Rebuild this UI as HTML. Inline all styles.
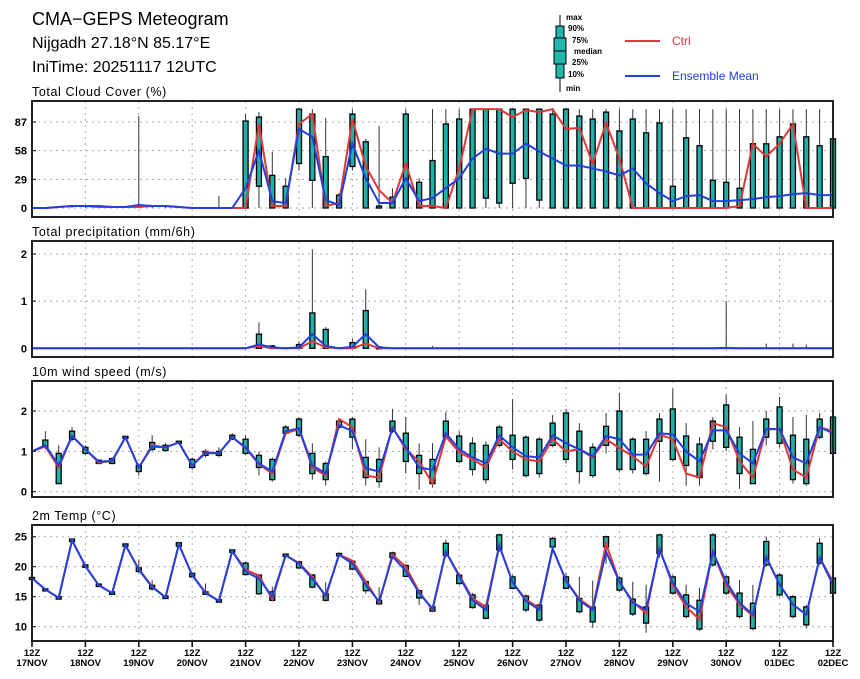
<!DOCTYPE html>
<html><head><meta charset="utf-8"><style>
body{margin:0;background:#fff;}
svg{display:block;font-family:"Liberation Sans",sans-serif;}
</style></head><body>
<svg id="c" width="860" height="679" xmlns="http://www.w3.org/2000/svg">
<text x="32" y="25" font-size="18">CMA−GEPS Meteogram</text>
<text x="32" y="48" font-size="16">Nijgadh 27.18°N 85.17°E</text>
<text x="32" y="72" font-size="16">IniTime: 20251117 12UTC</text>
<g>
<line x1="560" y1="15" x2="560" y2="92" stroke="#000"/>
<rect x="556" y="26" width="8" height="52" fill="#20b5ad" stroke="#000"/>
<rect x="554" y="38" width="12" height="26" fill="#20b5ad" stroke="#000"/>
<line x1="554" y1="51" x2="566" y2="51" stroke="#000"/>
<g font-size="8" font-weight="bold">
<text x="566" y="20">max</text><text x="568" y="31">90%</text><text x="572" y="43">75%</text><text x="574" y="54">median</text><text x="572" y="65">25%</text><text x="568" y="77">10%</text><text x="566" y="91">min</text></g>
<line x1="625" y1="41" x2="660" y2="41" stroke="#e03838" stroke-width="2"/>
<text x="672" y="45" font-size="12" fill="#e03838">Ctrl</text>
<line x1="625" y1="76" x2="660" y2="76" stroke="#2040e0" stroke-width="2"/>
<text x="672" y="80" font-size="12" fill="#2040e0">Ensemble Mean</text>
</g>
</svg>
<script>
const dayLabels=["17NOV","18NOV","19NOV","20NOV","21NOV","22NOV","23NOV","24NOV","25NOV","26NOV","27NOV","28NOV","29NOV","30NOV","01DEC","02DEC"];
const cloudTicks=[0,29,58,87];
const precipTicks=[0,1,2];
const windTicks=[0,1,2];
const tempTicks=[10,15,20,25];
const cloudMean=[0,0,1,2,2,2,1,1,3,2,2,1,0,0,0,0,20,58,7,5,80,72,8,3,65,30,5,5,30,7,10,20,30,50,60,55,55,65,57,50,43,43,40,37,33,40,25,15,7,12,13,7,7,8,9,11,12,14,15,13,13];
const cloudCtrl=[0,0,1,2,2,1,1,1,1,2,2,1,0,0,0,0,0,85,2,2,85,95,2,5,90,42,18,5,45,2,2,0,40,100,100,100,92,99,97,100,80,81,45,86,50,0,0,0,0,0,0,0,0,2,65,52,65,85,0,0,0];
const cloudQ25=[0,0,0,0,0,0,0,0,0,0,0,0,0,0,0,0,0,22,0,0,45,28,0,0,42,0,0,0,0,0,0,0,0,0,10,5,25,30,8,0,0,0,0,0,0,0,0,0,0,0,0,0,0,0,0,0,0,0,0,0,0];
const cloudQ75=[0,0,0,0,0,0,0,0,0,0,0,0,0,0,0,0,88,92,33,22,100,95,52,13,95,67,2,11,95,26,48,85,90,100,100,100,100,100,100,95,100,93,90,97,78,90,76,86,22,71,63,28,26,20,65,65,72,85,72,63,70];
const cloudMin=[0,0,0,0,0,0,0,0,0,0,0,0,0,0,0,0,0,0,0,0,38,0,0,0,38,0,0,0,0,0,0,0,0,0,0,0,0,0,0,0,0,0,0,0,0,0,0,0,0,0,0,0,0,0,0,0,0,0,0,0,0];
const cloudMax=[0,0,1,2,2,2,1,1,93,2,2,1,0,0,12,0,95,97,57,30,100,100,91,15,100,70,83,20,100,30,100,100,100,100,100,100,100,100,100,100,100,100,100,100,100,100,100,100,100,100,100,100,100,100,100,100,100,100,100,100,100];
const precMean=[0,0,0,0,0,0,0,0,0,0,0,0,0,0,0,0,0,0.08,0.02,0,0.02,0.3,0.05,0,0.03,0.3,0.02,0,0,0,0,0,0,0,0,0,0,0,0,0,0,0,0,0,0,0,0,0,0,0,0,0,0.01,0,0,0,0,0,0,0,0];
const precCtrl=[0,0,0,0,0,0,0,0,0,0,0,0,0,0,0,0,0,0.05,0,0,0,0.15,0.02,0,0,0.1,0,0,0,0,0,0,0,0,0,0,0,0,0,0,0,0,0,0,0,0,0,0,0,0,0,0,0,0,0,0,0,0,0,0,0];
const precQ25=[0,0,0,0,0,0,0,0,0,0,0,0,0,0,0,0,0,0,0,0,0,0,0,0,0,0,0,0,0,0,0,0,0,0,0,0,0,0,0,0,0,0,0,0,0,0,0,0,0,0,0,0,0,0,0,0,0,0,0,0,0];
const precQ75=[0,0,0,0,0,0,0,0,0,0,0,0,0,0,0,0,0,0.3,0.05,0,0.08,0.75,0.4,0,0.12,0.8,0.03,0,0,0,0,0,0,0,0,0,0,0,0,0,0,0,0,0,0,0,0,0,0,0,0,0,0,0,0,0,0,0,0,0,0];
const precMin=[0,0,0,0,0,0,0,0,0,0,0,0,0,0,0,0,0,0,0,0,0,0,0,0,0,0,0,0,0,0,0,0,0,0,0,0,0,0,0,0,0,0,0,0,0,0,0,0,0,0,0,0,0,0,0,0,0,0,0,0,0];
const precMax=[0,0,0,0,0,0,0,0,0,0,0,0,0,0,0,0,0,0.55,0.07,0,0.15,2.1,0.45,0,0.2,1.25,0.05,0,0,0,0.05,0,0,0,0,0,0,0,0,0,0,0,0,0,0,0,0,0,0,0,0,0,1.0,0,0,0.1,0,0.1,0.08,0,0];
const windMean=[1.0,1.15,0.65,1.38,1.05,0.75,0.76,1.35,0.6,1.12,1.1,1.22,0.65,0.96,0.95,1.35,1.1,0.7,0.5,1.5,1.57,0.65,0.45,1.65,1.5,0.58,0.5,1.58,1.1,0.6,0.54,1.45,1.05,0.85,0.7,1.4,1.1,0.88,0.85,1.4,1.2,1.05,0.88,1.38,1.3,0.92,0.92,1.45,1.42,1.0,0.75,1.52,1.52,0.95,0.7,1.55,1.55,0.85,0.7,1.6,1.45];
const windCtrl=[1.0,1.12,0.6,1.38,1.05,0.72,0.76,1.35,0.6,1.15,1.1,1.22,0.65,0.98,0.95,1.35,1.08,0.68,0.45,1.45,1.55,0.6,0.4,1.8,1.6,0.4,0.35,1.6,1.05,0.75,0.2,1.37,0.98,0.8,0.6,1.3,1.0,0.8,0.75,1.3,1.0,1.05,0.85,1.3,1.08,0.88,0.62,1.42,1.3,0.45,0.35,1.7,1.6,0.75,0.35,1.55,1.55,0.55,0.35,1.6,1.5];
const windQ25=[1.0,1.1,0.2,1.3,0.95,0.7,0.7,1.33,0.5,1.05,1.02,1.2,0.6,0.9,0.9,1.3,0.95,0.6,0.3,1.45,1.4,0.45,0.3,1.6,1.35,0.35,0.25,1.5,0.75,0.45,0.2,1.35,0.75,0.55,0.3,1.15,0.8,0.4,0.45,1.15,0.8,0.5,0.4,1.15,0.55,0.55,0.45,1.25,0.8,0.65,0.35,1.25,1.1,0.45,0.2,1.35,1.2,0.3,0.2,1.35,0.95];
const windQ75=[1.0,1.28,0.95,1.5,1.1,0.78,0.82,1.37,0.65,1.22,1.15,1.25,0.8,1.0,1.0,1.4,1.3,0.9,0.8,1.6,1.8,0.95,0.7,1.75,1.8,0.85,0.8,1.75,1.45,0.9,0.8,1.75,1.38,1.2,1.15,1.6,1.4,1.35,1.3,1.7,1.95,1.5,1.1,1.62,2.0,1.3,1.3,1.8,2.05,1.38,1.18,1.75,2.15,1.35,1.05,1.8,2.1,1.4,1.3,1.8,1.85];
const windMin=[1.0,1.05,0.2,1.25,0.9,0.68,0.68,1.32,0.4,1.0,1.0,1.18,0.55,0.85,0.85,1.28,0.9,0.4,0.25,1.4,1.35,0.3,0.15,1.55,1.05,0.15,0.1,1.45,0.45,0.05,0.1,1.3,0.7,0.4,0.2,1.1,0.55,0.35,0.35,1.1,0.7,0.2,0.35,0.95,0.5,0.45,0.4,0.25,0.75,0.15,0.15,1.05,1.0,0.07,0.2,1.15,1.1,0.2,0.15,1.3,0.9];
const windMax=[1.0,1.5,1.15,1.6,1.15,0.8,0.85,1.38,0.7,1.4,1.2,1.27,0.85,1.05,1.1,1.45,1.4,1.0,0.85,1.65,1.85,1.2,0.75,1.8,1.85,1.3,1.1,2.05,1.85,1.2,1.2,1.98,1.5,1.35,1.25,1.65,2.3,1.4,1.35,1.9,2.05,1.7,1.2,1.95,2.45,1.35,1.5,1.95,2.55,1.7,1.35,1.85,2.4,1.6,1.75,2.0,2.35,1.85,1.9,1.95,1.9];
const tempMean=[18.1,16.2,14.8,24.4,20.1,16.9,15.6,23.6,19.5,16.6,14.9,23.7,18.6,15.6,14.3,22.6,19.2,18.0,15.0,21.9,20.5,18.0,15.2,22.0,20.5,17.0,14.2,21.7,19.3,15.6,13.0,22.5,18.4,14.4,12.8,23.5,17.4,14.3,12.8,23.0,17.7,14.4,12.8,22.5,17.5,14.0,12.8,22.9,17.3,13.9,12.5,22.5,17.5,14.0,12.0,21.6,17.0,13.7,12.0,21.5,17.0];
const tempCtrl=[18.1,16.2,14.8,24.4,20.1,16.9,15.6,23.6,19.6,16.7,14.9,23.7,18.6,15.7,14.3,22.6,19.5,18.5,14.6,21.9,20.6,18.3,15.0,22.0,21.0,17.5,14.0,22.0,20.0,15.8,12.8,22.5,18.6,14.7,13.3,23.5,17.4,14.5,13.1,23.0,17.7,14.6,13.0,23.8,17.5,14.2,12.2,23.0,16.9,13.3,11.2,22.5,16.9,13.7,11.8,21.6,17.0,13.7,12.0,21.5,17.5];
const tempQ25=[18.0,16.1,14.6,24.2,19.9,16.7,15.4,23.4,19.2,16.3,14.7,23.4,18.3,15.4,14.1,22.4,18.7,15.5,14.4,21.7,19.8,16.6,14.4,21.8,19.6,16.0,13.8,21.5,18.4,14.8,12.6,21.9,17.2,13.2,11.4,22.8,16.4,12.8,11.1,23.3,16.4,12.5,10.8,23.3,16.1,12.1,10.6,22.2,15.6,11.7,9.6,20.3,15.6,11.7,9.7,20.3,15.3,11.7,10.3,20.6,15.6];
const tempQ75=[18.2,16.3,15.0,24.6,20.3,17.1,15.8,23.8,19.8,16.9,15.1,24.0,18.9,15.8,14.5,22.8,20.6,18.6,15.8,22.1,20.8,18.6,15.5,22.2,20.9,17.5,14.4,22.3,20.2,16.0,13.3,23.9,18.6,15.3,13.6,25.3,18.3,15.1,13.6,24.7,18.3,14.7,13.3,25.0,18.1,14.6,13.3,25.3,18.3,15.3,14.4,25.3,18.3,15.6,13.9,24.2,18.6,15.0,13.3,23.9,18.1];
const tempMin=[18.0,16.0,14.5,24.1,19.8,16.6,15.3,23.3,19.0,16.0,14.6,23.2,18.2,15.3,14.0,22.3,18.5,15.3,14.2,21.6,19.6,16.4,14.2,21.6,19.4,15.5,13.6,21.3,18.2,13.6,12.4,21.5,17.0,13.0,11.2,22.5,16.2,12.4,10.8,23.0,16.2,12.2,9.8,20.5,15.8,11.8,9.0,21.5,15.3,11.4,9.3,20.0,15.3,11.4,9.4,20.0,15.0,11.4,9.7,20.3,15.3];
const tempMax=[18.2,16.4,15.1,24.7,20.4,17.2,15.9,23.9,21.2,17.8,15.2,24.1,19.0,17.2,14.6,22.9,20.8,18.8,16.7,22.2,21.0,18.8,17.4,22.4,21.1,17.8,16.6,22.5,20.4,16.2,13.5,24.5,19.0,15.6,13.9,25.5,18.6,15.4,13.9,25.0,19.0,18.3,17.7,25.2,18.4,17.5,17.0,25.5,18.6,17.0,16.5,25.6,18.6,17.8,17.0,25.0,18.9,15.3,13.6,24.8,18.4];

const svg=document.getElementById('c');
const NS='http://www.w3.org/2000/svg';
const X0=32,X1=833,N=60;
function xs(i){return X0+(X1-X0)*i/N;}
function mk(t,a,parent){const e=document.createElementNS(NS,t);for(const k in a)e.setAttribute(k,a[k]);(parent||svg).appendChild(e);return e;}

const panels=[
 {name:'cloud',title:'Total Cloud Cover (%)',top:101,bot:217,v0:0,y0:208,v1:87,y1:122,ticks:cloudTicks,mean:cloudMean,ctrl:cloudCtrl,q25:cloudQ25,q75:cloudQ75,mn:cloudMin,mx:cloudMax},
 {name:'precip',title:'Total precipitation (mm/6h)',top:241,bot:357,v0:0,y0:348.3,v1:2,y1:254,ticks:precipTicks,mean:precMean,ctrl:precCtrl,q25:precQ25,q75:precQ75,mn:precMin,mx:precMax},
 {name:'wind',title:'10m wind speed (m/s)',top:381,bot:497,v0:0,y0:491.7,v1:2,y1:411,ticks:windTicks,mean:windMean,ctrl:windCtrl,q25:windQ25,q75:windQ75,mn:windMin,mx:windMax},
 {name:'temp',title:'2m Temp (°C)',top:525,bot:641,v0:10,y0:626.7,v1:25,y1:536.7,ticks:tempTicks,mean:tempMean,ctrl:tempCtrl,q25:tempQ25,q75:tempQ75,mn:tempMin,mx:tempMax}
];
panels.forEach(p=>{
 const ys=v=>p.y0+(v-p.v0)*(p.y1-p.y0)/(p.v1-p.v0);
 const g=mk('g',{});
 
 
 const t=mk('text',{x:32,y:p.top-5,'font-size':12.5,'letter-spacing':'0.6'},g);t.textContent=p.title;
 
 
 for(let d=1;d<15;d++){const l=mk('line',{x1:xs(d*4),x2:xs(d*4),y1:p.top,y2:p.bot,stroke:'#aaa','stroke-dasharray':'2,4'},g);
  
  }
 p.ticks.forEach(v=>{const y=ys(v);
  const l=mk('line',{x1:X0,x2:X1,y1:y,y2:y,stroke:'#aaa','stroke-dasharray':'2,4'},g);
  
  
  mk('line',{x1:X0,x2:X0+4,y1:y,y2:y,stroke:'#000'},g);
  const tt=mk('text',{x:27,y:y+4,'font-size':11,'font-weight':'bold','text-anchor':'end'},g);tt.textContent=v;
  
  });
 for(let i=0;i<=N;i++){
  const x=xs(i);
  if(p.mx[i]>p.mn[i]){const w=mk('line',{x1:x,x2:x,y1:ys(p.mx[i]),y2:ys(p.mn[i]),stroke:'#333','stroke-width':1},g);
   
   }
  if(p.q75[i]>p.q25[i]){const h=Math.max(2,ys(p.q25[i])-ys(p.q75[i]));
   const b=mk('rect',{x:x-2.5,y:ys(p.q75[i]),width:5,height:h,fill:'#1fb0a8',stroke:'#000','stroke-width':1.3},g);
   
   }
 }
 const lc=mk('polyline',{points:p.ctrl.map((v,i)=>xs(i)+','+ys(v)).join(' '),fill:'none',stroke:'#e03838','stroke-width':2},g);
 
 
 const lm=mk('polyline',{points:p.mean.map((v,i)=>xs(i)+','+ys(v)).join(' '),fill:'none',stroke:'#2040e0','stroke-width':2},g);
 
 
 const fr=mk('rect',{x:X0,y:p.top,width:X1-X0,height:p.bot-p.top,fill:'none',stroke:'#222','stroke-width':2},g);
 
 
});
dayLabels.forEach((d,k)=>{const x=xs(k*4);
 mk('line',{x1:x,x2:x,y1:641,y2:647,stroke:'#000','stroke-width':1.5});
 const a=mk('text',{x:x,y:656,'font-size':9.5,'font-weight':'bold','text-anchor':'middle'});a.textContent='12Z';
 
 
 const b=mk('text',{x:x,y:666,'font-size':9.5,'font-weight':'bold','text-anchor':'middle'});b.textContent=d;
 
 
});
</script>
</body></html>
